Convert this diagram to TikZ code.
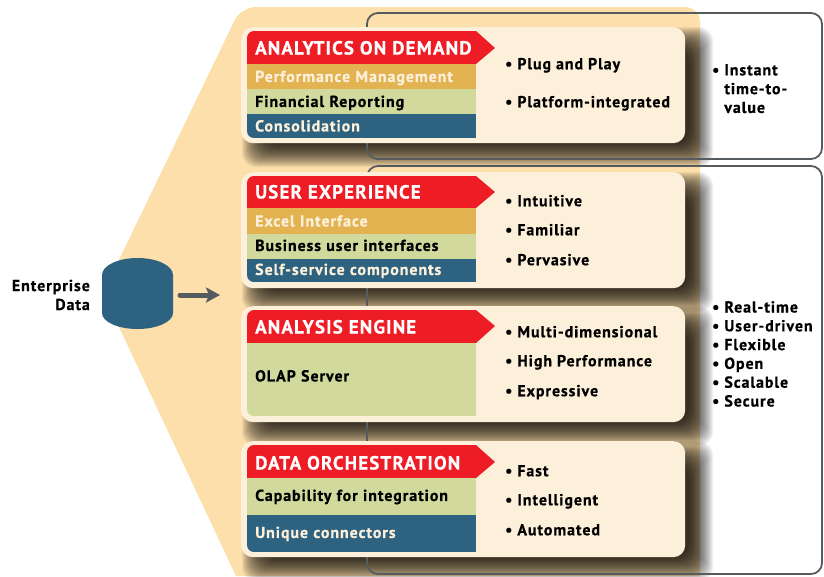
\documentclass[tikz,border=0pt]{standalone}
\usepackage{fontspec}
\setmainfont{PT Sans}[BoldFont={PT Sans Bold},BoldFeatures={FakeBold=0.6,LetterSpace=6}]
\usetikzlibrary{arrows.meta}
\definecolor{hexfill}{HTML}{FDDFAB}
\definecolor{panelfill}{HTML}{FDF0DA}
\definecolor{titlered}{HTML}{EE1C25}
\definecolor{bandorange}{HTML}{E3B352}
\definecolor{bandgreen}{HTML}{D1D99C}
\definecolor{bandblue}{HTML}{2D6380}
\definecolor{framegray}{HTML}{565B60}
\tikzset{
	panel/.style={fill=panelfill, rounded corners=12pt, minimum width=444pt, minimum height=116pt, anchor=north west, inner sep=0pt},
	band/.style={anchor=north west, text width=213pt, inner xsep=8pt, inner ysep=0pt, align=left, text height=10.5pt, text depth=0pt, font=\bfseries\fontsize{15.9pt}{18pt}\selectfont},
	titletext/.style={anchor=west, inner sep=0pt, text=white, text height=13pt, text depth=0pt, font=\bfseries\fontsize{19pt}{22pt}\selectfont},
	point/.style={anchor=west, inner sep=0pt, text height=10.5pt, text depth=0pt, font=\bfseries\fontsize{15.9pt}{18pt}\selectfont},
	outcome/.style={anchor=north west, inner sep=0pt, align=left, font=\bfseries\fontsize{15.9pt}{18.8pt}\selectfont},
	frame/.style={draw=framegray, line width=1.8pt, rounded corners=11pt},
}
\begin{document}
\begin{tikzpicture}[x=1pt, y=-1pt]
		\useasboundingbox (0,0) rectangle (824,576);

		% backdrop
		\fill[hexfill] (103,293) [rounded corners=15pt] -- (241,7) -- (700,7) [sharp corners] -- (700,576) -- (236,576) -- cycle;

		% shadows
		\foreach \top in {27,172,306,441} {
			\foreach \g in {0,...,24} {
				\fill[black, opacity=0.055, rounded corners=14pt] (266-\g,\top+24-\g) rectangle (689+\g,\top+116+\g);
			}
		}

		% frames
		\draw[frame] (367,159) -- (367,13) -- (822,13) -- (822,159) -- cycle;
		\draw[frame] (367,574) -- (367,166) -- (822,166) -- (822,574) -- cycle;

		% panels
		\node[panel] (panelA) at (241,27) {};
		\node[panel] (panelB) at (241,172) {};
		\node[panel] (panelC) at (241,306) {};
		\node[panel] (panelD) at (241,441) {};

		\begin{scope}
			\clip[rounded corners=7pt] (247,31) rectangle (510,138);
			\fill[titlered] (247,31) -- (476,31) -- (495,48) -- (476,64) -- (247,64) -- cycle;
			\node[band, fill=bandorange, text=panelfill, minimum height=25pt] (perf) at (247,64) {Performance Management};
			\node[band, fill=bandgreen, minimum height=25pt] (fin) at (247,89) {Financial Reporting};
			\node[band, fill=bandblue, text=panelfill, minimum height=24pt] (cons) at (247,114) {Consolidation};
		\end{scope}
		\begin{scope}
			\clip[rounded corners=7pt] (247,176) rectangle (510,282);
			\fill[titlered] (247,176) -- (476,176) -- (495,192) -- (476,208) -- (247,208) -- cycle;
			\node[band, fill=bandorange, text=panelfill, minimum height=26pt] (excel) at (247,208) {Excel Interface};
			\node[band, fill=bandgreen, text depth=2pt, minimum height=25pt] (biz) at (247,234) {Business user interfaces};
			\node[band, fill=bandblue, text=panelfill, text depth=2pt, minimum height=23pt] (self) at (247,259) {Self-service components};
		\end{scope}
		\begin{scope}
			\clip[rounded corners=7pt] (247,310) rectangle (510,416);
			\fill[titlered] (247,310) -- (476,310) -- (495,326) -- (476,343) -- (247,343) -- cycle;
			\node[band, fill=bandgreen, text depth=7pt, minimum height=73pt] (olap) at (247,343) {OLAP Server};
		\end{scope}
		\begin{scope}
			\clip[rounded corners=7pt] (247,445) rectangle (510,552);
			\fill[titlered] (247,445) -- (476,445) -- (495,462) -- (476,478) -- (247,478) -- cycle;
			\node[band, fill=bandgreen, text depth=2pt, minimum height=37pt] (capab) at (247,478) {Capability for integration};
			\node[band, fill=bandblue, text=panelfill, text depth=2pt, minimum height=37pt] (conn) at (247,515) {Unique connectors};
		\end{scope}

		\node[titletext] (analytics) at (255,48) {ANALYTICS ON DEMAND};
		\node[titletext] (user) at (255,192) {USER EXPERIENCE};
		\node[titletext] (engine) at (255,327) {ANALYSIS ENGINE};
		\node[titletext] (orch) at (255,463) {DATA ORCHESTRATION};

		\node[point] (plug) at (505,64) {• Plug and Play};
		\node[point] (integ) at (505,102) {• Platform-integrated};
		\node[point] (intu) at (505,201) {• Intuitive};
		\node[point] (famil) at (505,230) {• Familiar};
		\node[point] (perv) at (505,260) {• Pervasive};
		\node[point] (multi) at (505,332) {• Multi-dimensional};
		\node[point] (high) at (505,361) {• High Performance};
		\node[point] (expr) at (505,391) {• Expressive};
		\node[point] (fast) at (505,471) {• Fast};
		\node[point] (intel) at (505,500) {• Intelligent};
		\node[point] (auto) at (505,530) {• Automated};

		\node[outcome] (instant) at (712,64) {• Instant\\\phantom{• }time-to-\\\phantom{• }value};
		\node[outcome] (realtime) at (712,301) {• Real-time\\• User-driven\\• Flexible\\• Open\\• Scalable\\• Secure};

		% source
		\fill[bandblue] (102,275) arc[start angle=180, end angle=360, x radius=35.5, y radius=17] -- (173,313) arc[start angle=0, end angle=180, x radius=35.5, y radius=16] -- cycle;
		\coordinate (dbedge) at (173,295);
		\coordinate (dbtip) at (220,295);
		\node[anchor=east, inner sep=0pt, align=right, font=\bfseries\fontsize{15.9pt}{19pt}\selectfont] (source) at (90,295) {Enterprise\\Data};
		\draw[line width=5pt, line cap=round, draw=framegray, -{Stealth[length=14pt,width=15pt,inset=3pt]}, shorten <=7pt] (dbedge) -- (dbtip);
	\end{tikzpicture}
\end{document}
